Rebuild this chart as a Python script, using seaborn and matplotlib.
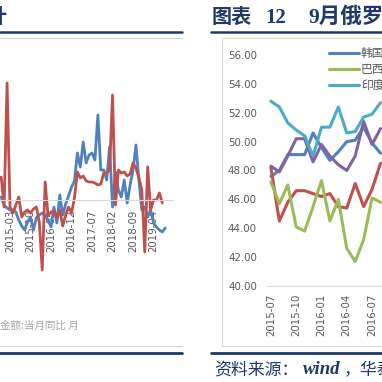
import matplotlib
matplotlib.use('Agg')
from matplotlib import pyplot as plt
from matplotlib.lines import Line2D
from matplotlib.patches import Rectangle
import numpy as np
import pandas as pd
import seaborn as sns


# 左图：当月同比（蓝、红两条），2014-12 起逐月
left_blue = [1.5, -2.5, -4, -5, -5, -6, -10, -13, -15, -11, -8.5, -15, -9, -7.5, -6.5,
             -8, -10, -13.5, -3.5, -11.5, 2.5, -7.5, -2, 2, 6.5, 9.5, 23.5, 16.5, 29,
             18.5, 22.5, 23.5, 20, 42.5, 15, 15, 10, 26.5, -3.5, 14, 5, 1.5, 10, -1.5,
             7.5, 15, 27.5, 10, -5, -3.5, -8.5, -5, -11.5, -13.5, -15, -16, -14]
left_red = [11.5, -3.5, 58.5, -3.5, -6.5, -2.5, 1.5, -8.5, -6, -5, -6.5, -4.5, -3.5, -11,
            -35, 9, -8, -6, -5.5, -9, -5, -13, -7.5, -3.5, -6.5, 1, 14, 11, 12, 9.5, 9,
            9, 8.5, 7.5, 8, 13.5, 13.5, 15, 52.5, -2.5, 15, 13.5, 14, 12, 13, 18.5, 16,
            11, 5, -26, 16.5, -5, 0, 0, 3.5, -1.5]
left_start = '2014-12'
left_tick_labels = ['2015-03', '2015-10', '2016-05', '2016-12',
                    '2017-07', '2018-02', '2018-09', '2019-04']
left_note = '金额:当月同比 月'

# 右图：PMI
right_months = ['2015-07', '2015-08', '2015-09', '2015-10', '2015-11', '2015-12', '2016-01',
                '2016-02', '2016-03', '2016-04', '2016-05', '2016-06', '2016-07', '2016-08']
korea = [47.6, 48.0, 49.1, 49.1, 49.1, 50.6, 49.6, 48.7, 49.3, 50.0, 50.1, 51.0, 49.9, 49.2]
brazil = [47.2, 45.7, 47.0, 44.1, 43.8, 45.5, 47.3, 44.5, 46.0, 42.6, 41.7, 43.2, 46.1, 45.8]
india = [52.8, 52.4, 51.3, 50.8, 50.4, 49.0, 51.0, 51.0, 52.4, 50.6, 50.7, 51.7, 51.9, 52.7]
purple_series = [48.3, 47.9, 49.0, 50.2, 50.2, 48.6, 49.8, 49.0, 48.4, 48.0, 49.0, 51.4, 49.8, 50.9]
red_series = [48.2, 44.5, 45.8, 46.6, 46.6, 46.4, 46.2, 46.4, 45.5, 45.4, 47.1, 45.5, 46.7, 48.5]
right_title = ['图表', '12', '9月俄罗斯']
source_text = ['资料来源：', 'wind', '，华泰证券研究所']

COLOR = {
    'blue': '#4F81BD',
    'red': '#C0504D',
    'green': '#9BBB59',
    'purple': '#8064A2',
    'aqua': '#4BACC6',
    'navy': '#1F3A68',
    'rule': '#CDD3DE',
    'frame': '#D9D9D9',
    'tick': '#595959',
    'note': '#A6A6A6',
}

sns.set_style('white')
plt.rcParams['font.family'] = ['DejaVu Sans', 'Noto Sans CJK SC']

W = H = 382
fig = plt.figure(figsize=(3.82, 3.82), dpi=100)


def fx(px):
    return px / W


def fy(py):
    return 1 - py / H


# ---- 左图 ----
ax_l = fig.add_axes([fx(0), fy(280), fx(172), (280 - 70) / H])
xb = np.arange(len(left_blue))
xr = np.arange(len(left_red))
sns.lineplot(x=xb, y=left_blue, ax=ax_l, color=COLOR['blue'], linewidth=2.0)
sns.lineplot(x=xr, y=left_red, ax=ax_l, color=COLOR['red'], linewidth=2.0)
ax_l.set_xlim(-0.41, 58.3)
ax_l.set_ylim(-40, 65)
for s in ['left', 'right', 'top']:
    ax_l.spines[s].set_visible(False)
ax_l.spines['bottom'].set_position(('data', 0))
ax_l.spines['bottom'].set_color(COLOR['frame'])
ax_l.set_yticks([])
left_months = list(pd.period_range(left_start, periods=len(left_blue), freq='M').strftime('%Y-%m'))
ax_l.set_xticks([left_months.index(m) for m in left_tick_labels])
ax_l.set_xticklabels(left_tick_labels, rotation=90)
ax_l.tick_params(axis='x', length=3, color=COLOR['frame'], labelcolor=COLOR['tick'],
                 labelsize=7.4, pad=4)

# ---- 右图 ----
ax_r = fig.add_axes([fx(266.7), fy(286), 118 / W, 231 / H])
xi = np.arange(len(right_months))
sns.lineplot(x=xi, y=korea, ax=ax_r, color=COLOR['blue'], linewidth=2.2, label='韩国')
sns.lineplot(x=xi, y=red_series, ax=ax_r, color=COLOR['red'], linewidth=2.2)
sns.lineplot(x=xi, y=brazil, ax=ax_r, color=COLOR['green'], linewidth=2.2, label='巴西')
sns.lineplot(x=xi, y=purple_series, ax=ax_r, color=COLOR['purple'], linewidth=2.2)
sns.lineplot(x=xi, y=india, ax=ax_r, color=COLOR['aqua'], linewidth=2.2, label='印度')
ax_r.set_xlim(-0.5, 13.5)
ax_r.set_ylim(40, 56)
for s in ['left', 'right', 'top']:
    ax_r.spines[s].set_visible(False)
ax_r.spines['bottom'].set_color(COLOR['frame'])
ax_r.set_yticks(np.arange(40, 57, 2))
ax_r.set_yticklabels([f'{v:.2f}' for v in np.arange(40, 57, 2)])
ax_r.set_xticks(xi[::3])
ax_r.set_xticklabels(right_months[::3], rotation=90)
ax_r.set_xticks(np.arange(-0.5, 14, 3), minor=True)
ax_r.tick_params(axis='y', length=0, labelcolor=COLOR['tick'], labelsize=7.4, pad=7)
ax_r.tick_params(axis='x', which='major', length=0, labelcolor=COLOR['tick'],
                 labelsize=7.4, pad=5.5)
ax_r.tick_params(axis='x', which='minor', length=3, color=COLOR['frame'])
ax_r.legend(loc='upper left', bbox_to_anchor=(fx(329), fy(47)), bbox_transform=fig.transFigure,
            frameon=False, fontsize=8.5, handlelength=2.5, handletextpad=0.2,
            labelspacing=0.25, borderpad=0, borderaxespad=0, labelcolor=COLOR['tick'])

# 图表外框
fig.add_artist(Rectangle((fx(222), fy(346)), 0.5, (346 - 38) / H, transform=fig.transFigure,
                         fill=False, edgecolor=COLOR['frame'], linewidth=0.8))

# ---- 标题、分隔线、注释 ----
fig.text(fx(8), fy(23), '统计', ha='right', va='baseline', fontsize=14,
         fontweight='bold', color=COLOR['navy'], family=['Noto Sans CJK SC'])
serif_cjk = ['Liberation Serif', 'Noto Sans CJK SC']
fig.text(fx(212), fy(23), right_title[0], ha='left', va='baseline', fontsize=14.5,
         fontweight='bold', color=COLOR['navy'], family=serif_cjk)
fig.text(fx(265), fy(23), right_title[1], ha='left', va='baseline', fontsize=15,
         fontweight='bold', color=COLOR['navy'], family=serif_cjk)
fig.text(fx(308), fy(23), right_title[2], ha='left', va='baseline', fontsize=15.5,
         fontweight='bold', color=COLOR['navy'], family=serif_cjk)

for x0, x1 in [(0, 182), (211, 382)]:
    fig.add_artist(Line2D([fx(x0), fx(x1)], [fy(32), fy(32)], transform=fig.transFigure,
                          color=COLOR['navy'], linewidth=1.8))
fig.add_artist(Line2D([fx(0), fx(182)], [fy(38), fy(38)], transform=fig.transFigure,
                      color=COLOR['rule'], linewidth=0.8))
fig.add_artist(Line2D([fx(0), fx(182)], [fy(346), fy(346)], transform=fig.transFigure,
                      color=COLOR['rule'], linewidth=0.8))
for x0, x1 in [(0, 182), (211, 382)]:
    fig.add_artist(Line2D([fx(x0), fx(x1)], [fy(353), fy(353)], transform=fig.transFigure,
                          color=COLOR['navy'], linewidth=2.0))

fig.text(fx(0), fy(326), left_note, ha='left', va='center', fontsize=7.6,
         color=COLOR['note'], family=['Noto Sans CJK SC'])
fig.text(fx(214), fy(370), source_text[0], ha='left', va='center', fontsize=12.2,
         color=COLOR['navy'], family=['Noto Sans CJK SC'])
fig.text(fx(303), fy(370), source_text[1], ha='left', va='center', fontsize=13.5,
         style='italic', fontweight='bold', color=COLOR['navy'], family=['Liberation Serif'])
fig.text(fx(344), fy(370), source_text[2], ha='left', va='center', fontsize=12.2,
         color=COLOR['navy'], family=['Noto Sans CJK SC'])

fig.savefig('out.png', dpi=100)
